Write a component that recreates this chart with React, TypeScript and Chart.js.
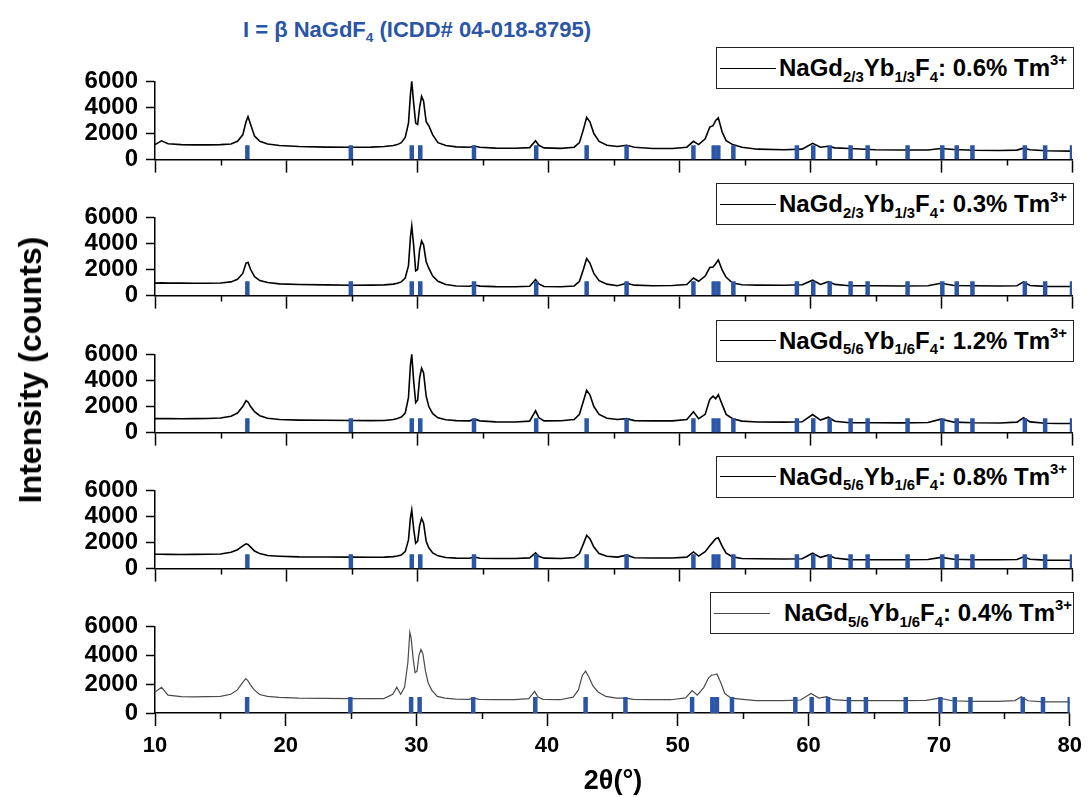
import React, { useEffect, useRef } from "react";
import { Chart, registerables } from "chart.js";

Chart.register(...registerables);

// ---------- DATA ----------
const TWO_THETA = [
  10, 10.5, 11, 12, 13, 14, 15, 15.8, 16.3, 16.7,
  16.95, 17.1, 17.3, 17.6, 18, 18.6, 19.5, 21, 23, 25,
  26.5, 27.5, 28.2, 28.5, 28.8, 29.1, 29.35, 29.5, 29.6, 29.75,
  29.9, 30.05, 30.2, 30.35, 30.5, 30.7, 30.9, 31.2, 31.6, 32.2,
  33, 34, 34.4, 34.8, 36, 37.5, 38.6, 39.05, 39.3, 39.7,
  41, 42, 42.4, 42.7, 42.95, 43.2, 43.5, 43.9, 44.5, 45.3,
  46, 46.6, 48, 49.5, 50.6, 51.1, 51.5, 52, 52.35, 52.6,
  52.8, 53, 53.3, 53.6, 54.1, 54.8, 56, 58, 59.4, 60.2,
  60.8, 61.4, 61.9, 63, 65, 67, 69, 70, 71, 72.5,
  74.5, 75.8, 76.3, 76.8, 78, 79, 80,
];

const I_23_06 = [
  1150, 1440, 1220, 1150, 1130, 1130, 1150, 1200, 1400, 1900,
  2900, 3300, 2700, 1800, 1400, 1200, 1080, 1000, 960, 950,
  960, 1000, 1080, 1150, 1300, 1700, 2800, 5000, 6000, 4300,
  2800, 2700, 4000, 4850, 4500, 2900, 2600, 1900, 1300, 1080,
  980, 950, 1020, 950, 880, 870, 920, 1450, 1100, 900,
  860, 950, 1300, 2300, 3250, 2900, 2000, 1400, 1100, 1000,
  1100, 950, 850, 850, 950, 1400, 1150, 1600, 2500, 2600,
  3000, 3200, 2100, 1450, 1150, 950, 800, 760, 800, 1250,
  950, 1020, 900, 850, 760, 740, 740, 850, 780, 720,
  700, 730, 880, 760, 680, 660, 650,
];

const I_23_03 = [
  960, 980, 960, 960, 950, 950, 970, 1050, 1250, 1700,
  2500, 2550, 2000, 1450, 1150, 1000, 900, 850, 820, 790,
  800, 820, 880, 950, 1050, 1350, 2300, 4500, 5350, 3800,
  1900, 2000, 3500, 4200, 3900, 2600, 2100, 1500, 1100, 850,
  740, 720, 810, 730, 690, 680, 720, 1240, 900, 700,
  680, 740, 1100, 2000, 2850, 2500, 1700, 1150, 880, 760,
  950, 800, 760, 770, 850, 1350, 1100, 1500, 2150, 2200,
  2450, 2740, 1950, 1400, 960, 830, 800, 790, 830, 1180,
  860, 1070, 860, 760, 750, 740, 750, 950, 780, 750,
  740, 760, 1050, 780, 710, 700, 700,
];

const I_56_12 = [
  1070, 1080, 1070, 1060, 1070, 1080, 1120, 1250, 1500, 2000,
  2450, 2350, 2000, 1600, 1300, 1100, 1000, 960, 950, 930,
  920, 930, 1000, 1080, 1200, 1500, 2700, 5200, 6000, 3900,
  2300, 2500, 4200, 4950, 4600, 2800, 2000, 1450, 1130, 980,
  920, 900, 1030, 900, 820, 810, 880, 1670, 1150, 900,
  910, 1000, 1400, 2400, 3250, 2900, 2000, 1400, 1100, 1000,
  1070, 920, 900, 900, 1000, 1600, 1070, 1400, 2550, 2800,
  2600, 2900, 2150, 1400, 1070, 880, 810, 800, 830, 1390,
  960, 1180, 870, 760, 750, 750, 780, 1030, 800, 750,
  740, 800, 1140, 820, 720, 700, 700,
];

const I_56_08 = [
  1100, 1100, 1090, 1080, 1090, 1100, 1120, 1250, 1450, 1750,
  1900, 1850, 1650, 1350, 1150, 1000, 950, 900, 890, 880,
  870, 880, 920, 970, 1050, 1300, 2200, 3900, 4500, 3000,
  1950, 2100, 3300, 3850, 3500, 2100, 1600, 1200, 980, 850,
  800, 790, 890, 790, 780, 780, 820, 1210, 950, 800,
  780, 850, 1150, 1900, 2550, 2300, 1650, 1150, 950, 880,
  1030, 830, 810, 810, 880, 1280, 960, 1300, 1750, 2050,
  2290, 2360, 1710, 1180, 900, 780, 750, 740, 760, 1180,
  860, 1030, 810, 690, 680, 680, 700, 860, 720, 680,
  680, 700, 900, 720, 650, 640, 640,
];

const I_56_04 = [
  1460, 1780, 1240, 1130, 1120, 1130, 1150, 1300, 1600, 2100,
  2380, 2250, 1950, 1600, 1280, 1150, 1080, 1030, 1020, 1000,
  990, 1000, 1300, 1780, 1300, 1800, 3500, 5600, 5200, 3800,
  2800, 2900, 4000, 4400, 4100, 2900, 2100, 1550, 1150, 1030,
  960, 950, 1030, 950, 920, 920, 1000, 1500, 1100, 950,
  920, 1100, 1600, 2600, 2900, 2500, 1900, 1460, 1150, 1030,
  1030, 950, 920, 920, 1050, 1560, 1240, 1780, 2420, 2630,
  2650, 2700, 2100, 1350, 1030, 960, 860, 860, 900, 1350,
  1030, 1130, 920, 860, 860, 860, 880, 1030, 850, 810,
  810, 860, 1130, 850, 770, 770, 770,
];

// ICDD 04-018-8795 reference line positions (2θ) and drawn height
const REF_PEAKS = [
  17.05, 24.95, 29.6, 30.25, 34.35, 39.1, 42.95, 46.0, 51.1, 52.65, 53.0,
  54.15, 59.0, 60.25, 61.5, 63.1, 64.4, 67.45, 70.1, 71.2, 72.4, 76.4, 77.95, 80.0,
];
const REF_INTENSITY = 1100;

const X_MIN = 10;
const X_MAX = 80;
const X_STEP = 10;
const Y_MIN = 0;
const Y_MAX = 6000;
const Y_STEP = 2000;

const PANELS = [
  { values: I_23_06, gd: "2/3", yb: "1/3", tm: "0.6%" },
  { values: I_23_03, gd: "2/3", yb: "1/3", tm: "0.3%" },
  { values: I_56_12, gd: "5/6", yb: "1/6", tm: "1.2%" },
  { values: I_56_08, gd: "5/6", yb: "1/6", tm: "0.8%" },
  { values: I_56_04, gd: "5/6", yb: "1/6", tm: "0.4%" },
];

// ---------- STYLE / LAYOUT ----------
const FONT = "'Liberation Sans', Arial, Helvetica, sans-serif";
const BLUE = "#2b55a6";
const W = 1089;
const LEFT = 155;
const RIGHT = 1072;
const PLOT_H = 93;
const PAD_TOP = 16;
const FIRST_ZERO = 168;
const PANEL_STEP = 136.25;

const minorTicks = {
  id: "minorTicks",
  afterDraw(chart: any) {
    const xs = chart.scales.x;
    const ctx = chart.ctx;
    ctx.save();
    ctx.strokeStyle = "#000";
    ctx.lineWidth = 1.5;
    for (let v = xs.min + X_STEP / 2; v < xs.max; v += X_STEP) {
      const px = Math.round(xs.getPixelForValue(v)) + 0.5;
      ctx.beginPath();
      ctx.moveTo(px, xs.top);
      ctx.lineTo(px, xs.top + 6);
      ctx.stroke();
    }
    ctx.restore();
  },
};

function Panel({ idx }: { idx: number }) {
  const ref = useRef<HTMLCanvasElement | null>(null);
  const p = PANELS[idx];
  const last = idx === PANELS.length - 1;
  const axisH = last ? 52 : 14;
  const zeroY = FIRST_ZERO + idx * PANEL_STEP;
  const top = zeroY - PLOT_H - PAD_TOP;
  const height = PAD_TOP + PLOT_H + axisH;
  const lineColor = last ? "#4a4a4a" : "#000";
  const lineWidth = last ? 1.2 : 1.6;

  useEffect(() => {
    if (!ref.current) return;
    const refData: any[] = [];
    REF_PEAKS.forEach((x) => {
      refData.push({ x, y: 0 }, { x, y: REF_INTENSITY }, { x, y: null });
    });
    const chart = new Chart(ref.current, {
      type: "line",
      data: {
        datasets: [
          {
            data: TWO_THETA.map((x, i) => ({ x, y: p.values[i] })),
            borderColor: lineColor,
            borderWidth: lineWidth,
            pointRadius: 0,
            tension: 0,
            order: 2,
            clip: false as any,
          },
          {
            data: refData,
            borderColor: BLUE,
            borderWidth: 4.5,
            borderCapStyle: "butt",
            pointRadius: 0,
            spanGaps: false,
            order: 1,
          },
        ],
      },
      options: {
        animation: false,
        responsive: true,
        maintainAspectRatio: false,
        events: [],
        layout: { padding: { top: PAD_TOP, right: W - RIGHT, left: 0, bottom: 0 } },
        plugins: {
          legend: { display: false },
          tooltip: { enabled: false },
          title: { display: false },
        },
        scales: {
          x: {
            type: "linear",
            min: X_MIN,
            max: X_MAX,
            ticks: {
              stepSize: X_STEP,
              display: last,
              color: "#000",
              font: { family: FONT, size: 22, weight: "bold" },
              padding: 7,
              maxRotation: 0,
              autoSkip: false,
              callback: (v: any) => String(v),
            },
            grid: {
              drawOnChartArea: false,
              drawTicks: true,
              tickLength: 13,
              tickColor: "#000",
              tickWidth: 1.5,
            },
            border: { display: true, color: "#000", width: 1.5 },
            afterFit: (s: any) => {
              s.height = axisH;
            },
          },
          y: {
            type: "linear",
            min: Y_MIN,
            max: Y_MAX,
            ticks: {
              stepSize: Y_STEP,
              color: "#000",
              font: { family: FONT, size: 24, weight: "bold" },
              padding: 8,
              autoSkip: false,
              callback: (v: any) => String(v),
            },
            grid: {
              drawOnChartArea: false,
              drawTicks: true,
              tickLength: 9,
              tickColor: "#000",
              tickWidth: 1.5,
            },
            border: { display: true, color: "#000", width: 1.5 },
            afterFit: (s: any) => {
              s.width = LEFT;
            },
          },
        },
      } as any,
      plugins: [minorTicks],
    });
    return () => chart.destroy();
  }, []);

  const legLeft = last ? 710 : 716;
  const subStyle: React.CSSProperties = {
    fontSize: "0.62em",
    position: "relative",
    top: "0.38em",
    verticalAlign: "baseline",
    lineHeight: 0,
  };
  const supStyle: React.CSSProperties = {
    fontSize: "0.62em",
    position: "relative",
    top: "-0.72em",
    verticalAlign: "baseline",
    lineHeight: 0,
  };

  return (
    <>
      <div style={{ position: "absolute", left: 0, top, width: W, height }}>
        <canvas ref={ref} />
      </div>
      <div
        style={{
          position: "absolute",
          left: legLeft,
          top: zeroY - 121,
          width: 1074 - legLeft,
          height: 42,
          boxSizing: "border-box",
          border: "1.5px solid #222",
          background: "#fff",
          display: "flex",
          alignItems: "center",
          fontFamily: FONT,
          fontWeight: "bold",
          fontSize: 24,
          color: "#000",
          whiteSpace: "nowrap",
          lineHeight: 1,
        }}
      >
        <div
          style={{
            width: 56,
            marginLeft: 3,
            marginRight: last ? 14 : 3,
            borderTop: `${last ? 1.2 : 1.5}px solid ${lineColor}`,
          }}
        />
        <span>
          NaGd<span style={subStyle}>{p.gd}</span>Yb<span style={subStyle}>{p.yb}</span>F
          <span style={subStyle}>4</span>: {p.tm} Tm<span style={supStyle}>3+</span>
        </span>
      </div>
    </>
  );
}

export default function App() {
  return (
    <div
      style={{
        position: "absolute",
        left: 0,
        top: 0,
        width: W,
        height: 797,
        overflow: "hidden",
        background: "#fff",
        fontFamily: FONT,
      }}
    >
      <div
        style={{
          position: "absolute",
          left: 417,
          top: 30,
          transform: "translate(-50%, -50%)",
          color: BLUE,
          fontWeight: "bold",
          fontSize: 22,
          whiteSpace: "nowrap",
          lineHeight: 1,
        }}
      >
        I = β NaGdF
        <span style={{ fontSize: "0.62em", position: "relative", top: "0.38em", lineHeight: 0 }}>4</span> (ICDD#
        04-018-8795)
      </div>
      {PANELS.map((_, i) => (
        <Panel key={i} idx={i} />
      ))}
      <div
        style={{
          position: "absolute",
          left: 30,
          top: 370,
          transform: "translate(-50%, -50%) rotate(-90deg)",
          fontWeight: "bold",
          fontSize: 32,
          whiteSpace: "nowrap",
          lineHeight: 1,
          color: "#000",
        }}
      >
        Intensity (counts)
      </div>
      <div
        style={{
          position: "absolute",
          left: 613,
          top: 780,
          transform: "translate(-50%, -50%)",
          fontWeight: "bold",
          fontSize: 27,
          whiteSpace: "nowrap",
          lineHeight: 1,
          color: "#000",
        }}
      >
        2θ(°)
      </div>
    </div>
  );
}
